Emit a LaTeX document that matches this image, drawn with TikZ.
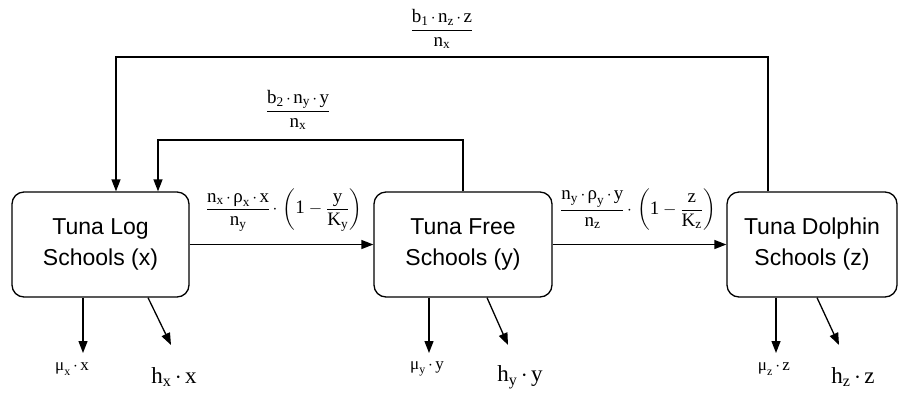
\documentclass[tikz,border=0pt]{standalone}
\usepackage{amsmath}
\usepackage{fontspec}
\setmainfont{Liberation Serif}
\setmathrm{Liberation Serif}
\newfontfamily\boxfont{Liberation Sans}
\usetikzlibrary{arrows.meta}
\newcommand\vv[2]{\mathrm{#1}_{\mathrm{#2}}}
\newcommand\gr[2]{\text{#1}_{\mathrm{#2}}}
\newcommand\md{\mkern2.5mu{\cdot}\mkern2.5mu}
\begin{document}
\begin{tikzpicture}[x=1pt,y=-1pt,line width=1.3pt,
  box/.style={draw, rounded corners=12pt, align=center,
    font=\boxfont\fontsize{23}{31}\selectfont, inner sep=0pt},
  arr/.style={-{Triangle[length=12pt,width=9pt]}},
  lab/.style={font=\fontsize{19}{22}\selectfont, inner sep=0pt},
  muf/.style={font=\fontsize{17}{19}\selectfont, inner sep=0pt},
  hf/.style={font=\fontsize{23}{26}\selectfont, inner sep=0pt}]
\useasboundingbox (0,0) rectangle (899,392);
% boxes
\node[box, minimum width=177pt, minimum height=105pt] (X) at (100.5,244.5) {Tuna Log\\Schools (x)};
\node[box, minimum width=178pt, minimum height=105pt] (Y) at (463,244.5) {Tuna Free\\Schools (y)};
\node[box, minimum width=170pt, minimum height=105pt] (Z) at (812,244.5) {Tuna Dolphin\\Schools (z)};
% forward flows
\draw[arr] (X.east) -- (Y.west);
\draw[arr] (Y.east) -- (Z.west);
\node[lab] (f1) at (284,210) {$\dfrac{\vv{n}{x}\md\gr{ρ}{x}\md\mathrm{x}}{\vv{n}{y}}\md\left(\mathrm{1}-\dfrac{\mathrm{y}}{\vv{K}{y}}\right)$};
\node[lab] (f2) at (638,210) {$\dfrac{\vv{n}{y}\md\gr{ρ}{y}\md\mathrm{y}}{\vv{n}{z}}\md\left(\mathrm{1}-\dfrac{\mathrm{z}}{\vv{K}{z}}\right)$};
% feedback flows
\coordinate (t1) at (116,57);
\coordinate (t2) at (768,57);
\coordinate (s1) at (158,140);
\coordinate (s2) at (463,140);
\draw[arr] (Z.north -| t2) -- (t2) -- (t1) -- (X.north -| t1);
\draw[arr] (Y.north -| s2) -- (s2) -- (s1) -- (X.north -| s1);
\node[lab] (fb1) at (442,29) {$\dfrac{\vv{b}{1}\md\vv{n}{z}\md\mathrm{z}}{\vv{n}{x}}$};
\node[lab] (fb2) at (298,110) {$\dfrac{\vv{b}{2}\md\vv{n}{y}\md\mathrm{y}}{\vv{n}{x}}$};
% losses
\coordinate (mxe) at (83,353);
\coordinate (hxe) at (171,345);
\coordinate (mye) at (429,353);
\coordinate (hye) at (508,345);
\coordinate (mze) at (776,353);
\coordinate (hze) at (839,345);
\draw[arr] (X.south -| mxe) -- (mxe);
\draw[arr] (X.south -| 148,0) -- (hxe);
\draw[arr] (Y.south -| mye) -- (mye);
\draw[arr] (Y.south -| 487,0) -- (hye);
\draw[arr] (Z.south -| mze) -- (mze);
\draw[arr] (Z.south -| 817,0) -- (hze);
\node[muf] (mx) at (72,369) {$\gr{μ}{x}\md\mathrm{x}$};
\node[hf] (hx) at (174,377) {$\vv{h}{x}\md\mathrm{x}$};
\node[muf] (my) at (427,369) {$\gr{μ}{y}\md\mathrm{y}$};
\node[hf] (hy) at (520,377) {$\vv{h}{y}\md\mathrm{y}$};
\node[muf] (mz) at (774,369) {$\gr{μ}{z}\md\mathrm{z}$};
\node[hf] (hz) at (853,377) {$\vv{h}{z}\md\mathrm{z}$};
\end{tikzpicture}
\end{document}
